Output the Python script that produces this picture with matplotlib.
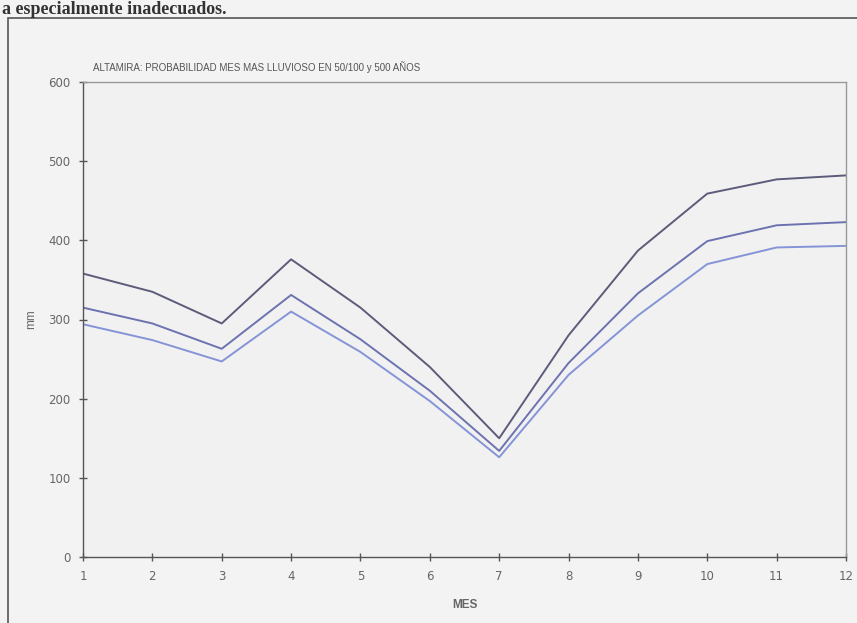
import matplotlib
matplotlib.use("Agg")
import matplotlib.pyplot as plt
from matplotlib.patches import Rectangle

# Monthly maximum rainfall (mm) for return periods
meses = [1, 2, 3, 4, 5, 6, 7, 8, 9, 10, 11, 12]
p500 = [358, 335, 295, 376, 315, 240, 150, 280, 387, 459, 477, 482]
p100 = [315, 295, 263, 331, 275, 210, 134, 245, 333, 399, 419, 423]
p50 = [294, 274, 247, 310, 259, 197, 126, 230, 305, 370, 391, 393]

fig = plt.figure(figsize=(8.57, 6.23), dpi=100, facecolor="#f3f3f3")

# scanned page frame and the caption line above it
fig.add_artist(Rectangle((8 / 857, -0.01), 1.0, 1 - 18 / 623 + 0.01,
                         transform=fig.transFigure, fill=False,
                         edgecolor="#555555", linewidth=1.2))
fig.text(0.002, 1 - 14 / 623, "a especialmente inadecuados.", fontsize=13,
         family="Liberation Serif", fontweight="bold", color="#333333",
         va="baseline", ha="left")

ax = fig.add_axes([83 / 857, 66 / 623, (846 - 83) / 857, (557 - 82) / 623])
ax.set_facecolor("#f1f1f1")

ax.plot(meses, p500, color="#5c5c7a", linewidth=1.4)
ax.plot(meses, p100, color="#6d72b0", linewidth=1.4)
ax.plot(meses, p50, color="#8494d6", linewidth=1.4)

ax.set_xlim(1, 12)
ax.set_ylim(0, 600)
ax.set_xticks(meses)
ax.set_yticks(range(0, 601, 100))
ax.tick_params(direction="inout", length=6, width=1, colors="#555555",
               labelsize=8.5, labelcolor="#666666", pad=6)

for s in ax.spines.values():
    s.set_color("#555555")
    s.set_linewidth(1)
ax.spines["top"].set_color("#9a9a9a")
ax.spines["right"].set_color("#9a9a9a")

ax.set_xlabel("MES", fontsize=8.5, color="#666666", family="Liberation Sans",
              fontweight="bold", labelpad=12)
ax.set_ylabel("mm", fontsize=8.5, color="#666666", family="Liberation Sans",
              labelpad=8)

fig.text(93 / 857, 1 - 67 / 623,
         "ALTAMIRA: PROBABILIDAD MES MAS LLUVIOSO EN 50/100 y 500 AÑOS",
         fontsize=7, color="#555555", family="Liberation Sans",
         va="center", ha="left")

plt.savefig("out.png", dpi=100, facecolor=fig.get_facecolor())
